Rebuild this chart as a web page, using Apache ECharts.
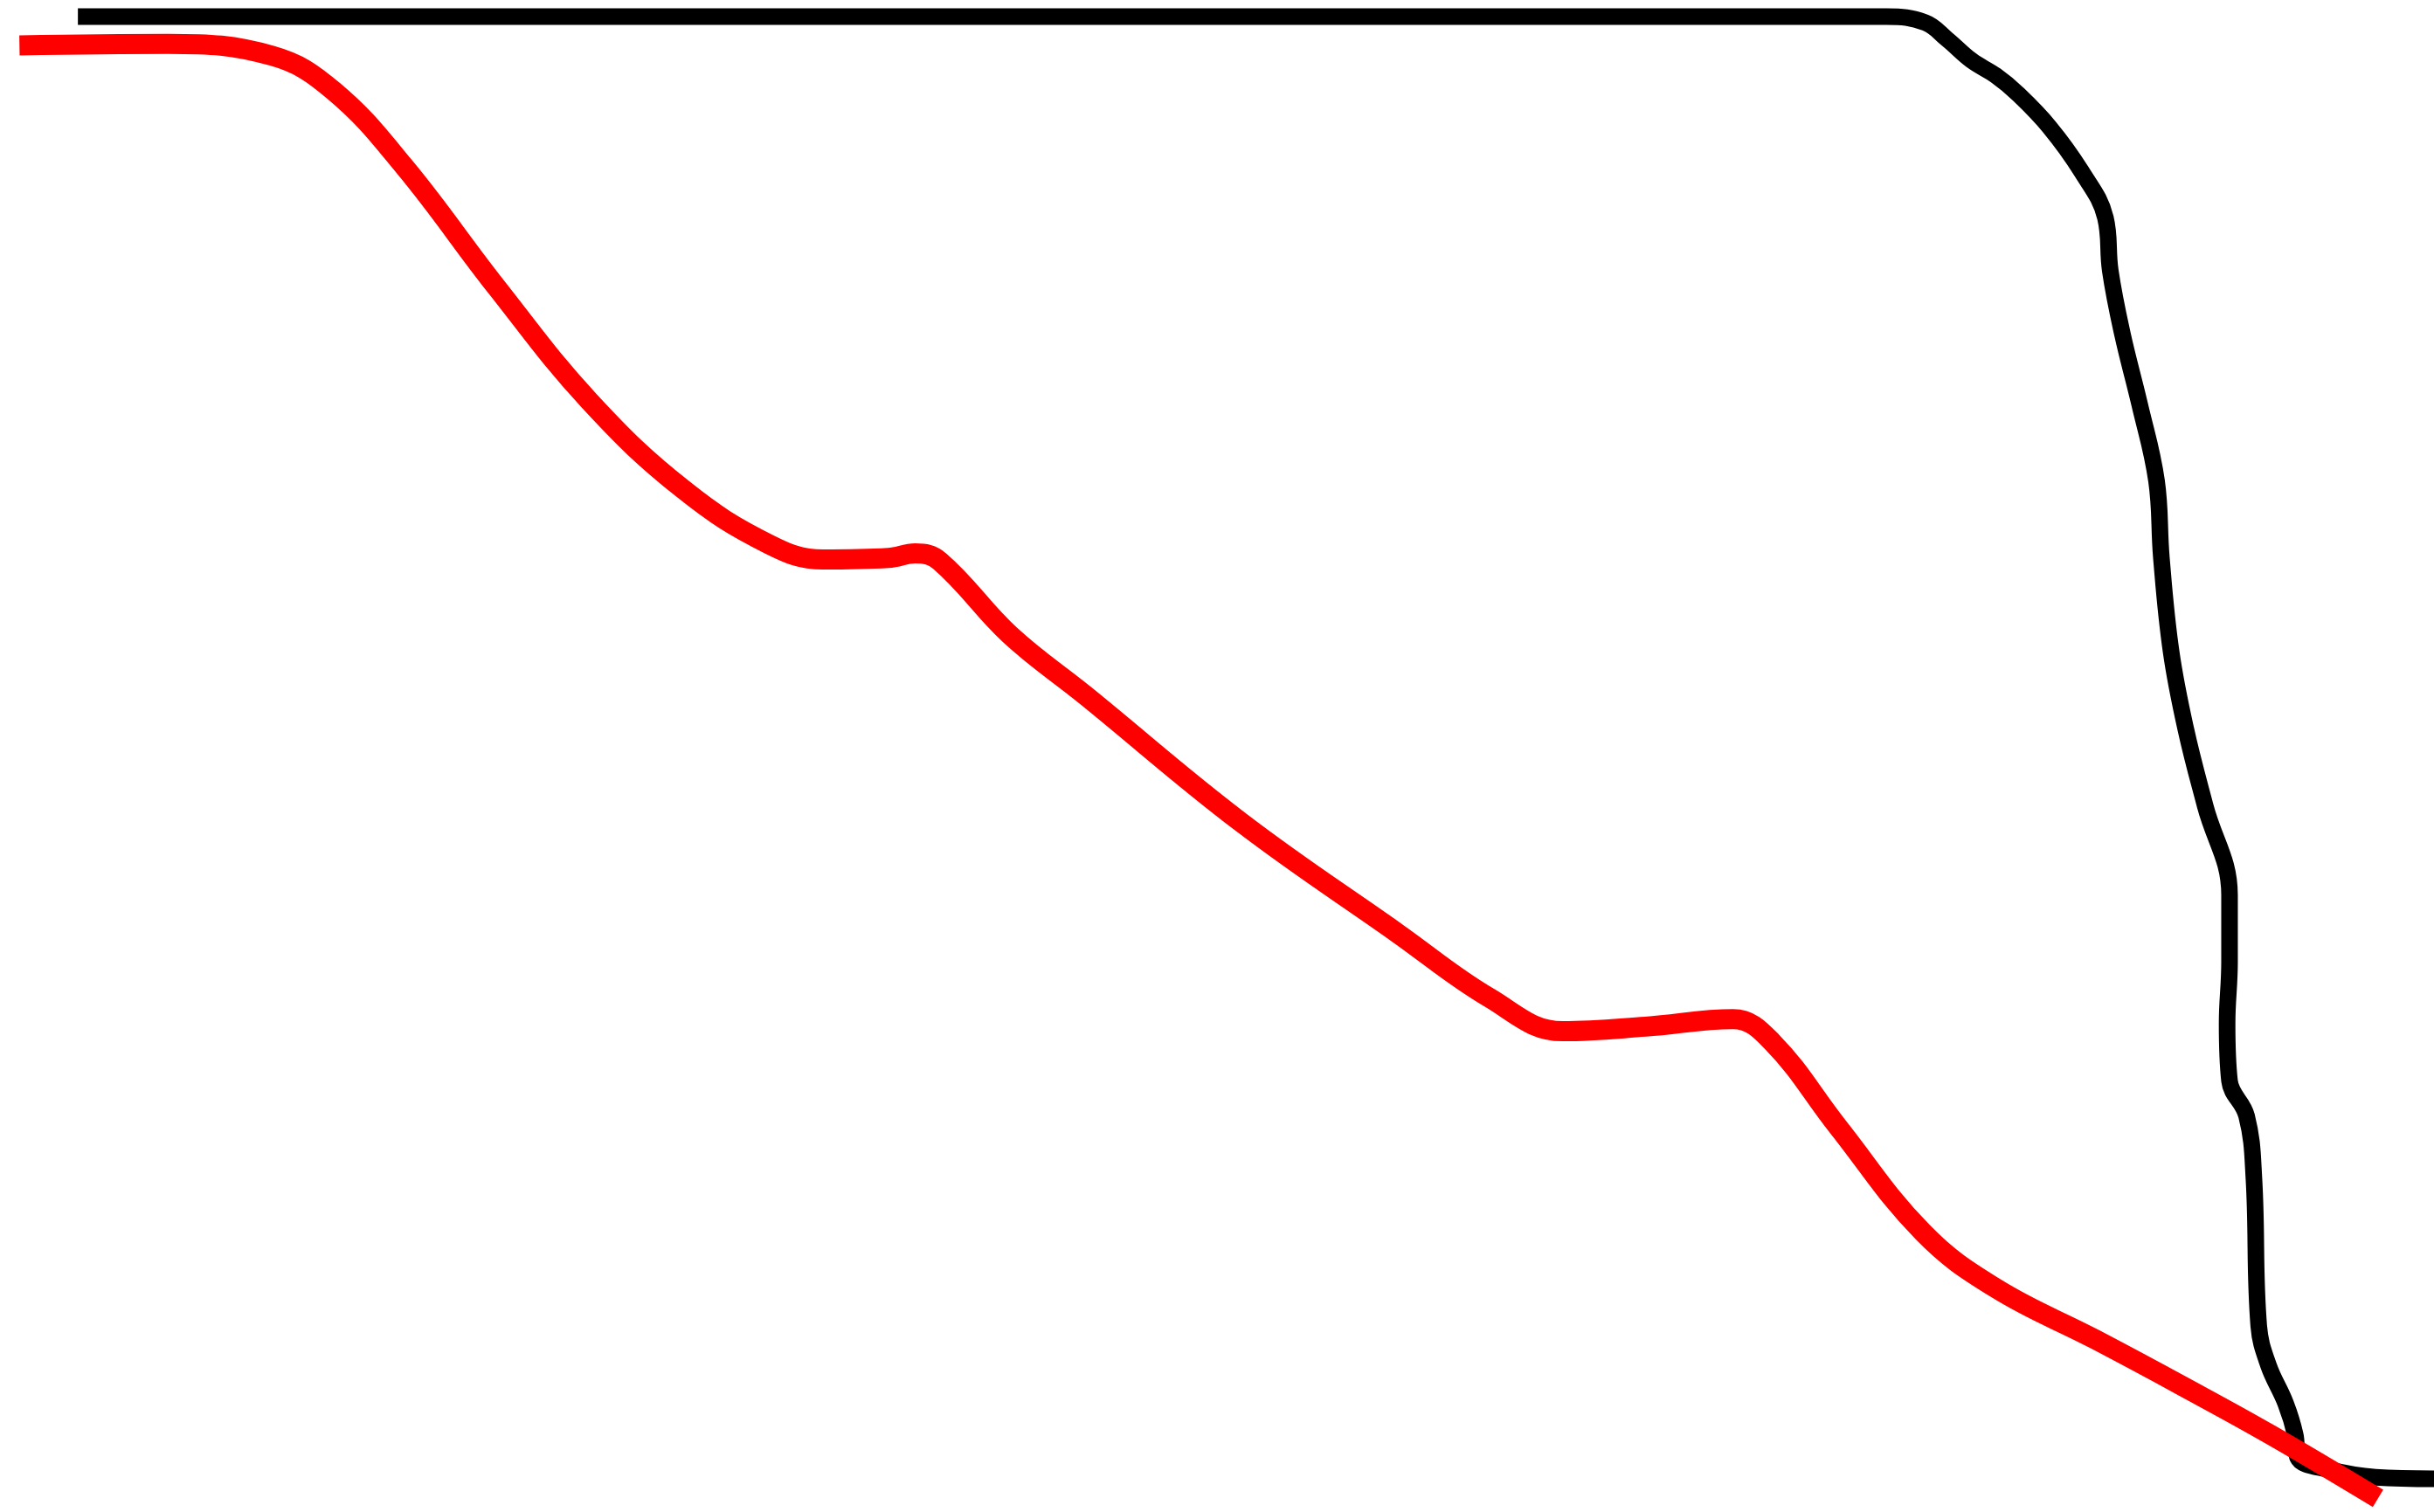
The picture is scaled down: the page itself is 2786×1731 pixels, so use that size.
<!DOCTYPE html>
<html>
<head>
<meta charset="utf-8">
<script src="https://cdn.jsdelivr.net/npm/echarts@6/dist/echarts.min.js"></script>
<style>
html,body{margin:0;padding:0;background:#fff;}
#chart{width:2786px;height:1731px;}
</style>
</head>
<body>
<div id="chart"></div>
<script>
// Values (x: 0–100 across, y: 0–100 bottom to top)
const blackX = [3.2, 77.5, 79.1, 80.0, 81.0, 82.0, 82.9, 84.2, 85.5, 86.5, 86.7, 87.2, 87.9, 88.6, 88.8, 89.2, 89.8, 90.6, 91.6, 91.6, 91.5, 91.6, 92.3, 92.6, 92.8, 93.2, 93.9, 94.3, 94.4, 95.7, 97.6, 100];
const blackY = [98.9, 98.9, 98.5, 97.4, 96.0, 95.0, 93.8, 91.6, 88.7, 85.6, 82.1, 77.9, 73.3, 68.2, 63.1, 56.9, 51.8, 46.7, 40.8, 36.4, 32.3, 28.5, 26.2, 22.1, 12.3, 9.7, 7.2, 5.1, 3.6, 2.8, 2.3, 2.2];
const redX = [0.8, 6.9, 11.2, 13.7, 16.6, 20.4, 24.2, 28.1, 31.6, 33.8, 36.5, 37.6, 38.6, 41.5, 44.6, 51.0, 57.4, 61.2, 64.2, 67.6, 71.2, 72.8, 75.5, 79.0, 82.0, 86.1, 89.7, 93.3, 97.7];
const redY = [97.0, 97.1, 96.3, 94.0, 89.0, 81.0, 73.5, 67.6, 64.0, 63.0, 63.1, 63.4, 62.9, 58.0, 54.0, 45.6, 38.3, 34.0, 31.8, 32.1, 32.6, 31.1, 25.5, 18.5, 14.8, 11.4, 8.3, 5.1, 0.9];

const pair = (xs, ys) => xs.map((x, i) => [x, ys[i]]);

const chart = echarts.init(document.getElementById('chart'), null, {renderer: 'canvas'});
chart.setOption({
  animation: false,
  backgroundColor: '#ffffff',
  grid: {left: 0, right: 0, top: 0, bottom: 0},
  xAxis: {type: 'value', min: 0, max: 100, show: false},
  yAxis: {type: 'value', min: 0, max: 100, show: false},
  series: [
    {
      name: 'black',
      type: 'line',
      data: pair(blackX, blackY),
      smooth: 0.4,
      showSymbol: false,
      lineStyle: {color: '#000000', width: 19, cap: 'butt', join: 'round'}
    },
    {
      name: 'red',
      type: 'line',
      data: pair(redX, redY),
      smooth: 0.4,
      showSymbol: false,
      lineStyle: {color: '#ff0000', width: 23, cap: 'butt', join: 'round'}
    }
  ]
});
</script>
</body>
</html>
